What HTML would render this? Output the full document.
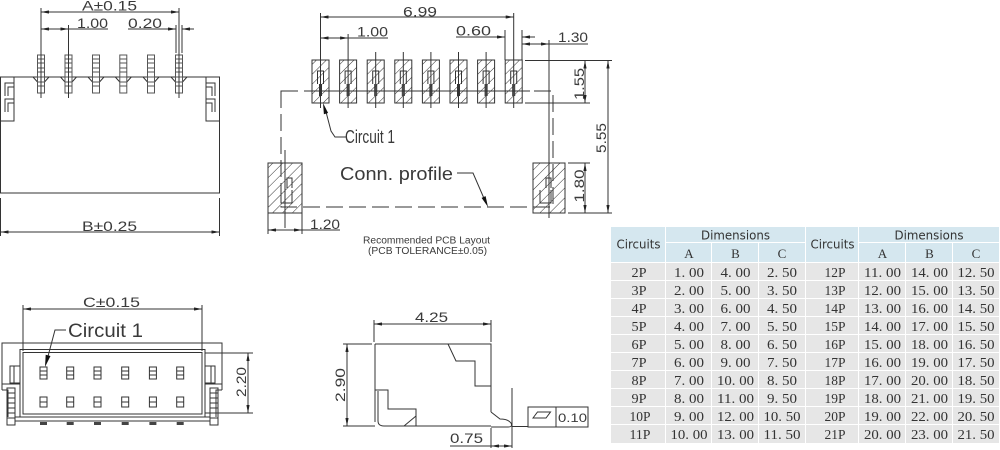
<!DOCTYPE html>
<html><head><meta charset="utf-8"><style>
html,body{margin:0;padding:0;background:#fff;}
svg{display:block}
.l{stroke:#333;stroke-width:1;fill:none}
.g{stroke:#555;stroke-width:1;fill:none}
.t{font-family:"Liberation Sans",sans-serif;fill:#3a3a3a;font-size:14px}
.ts{font-family:"DejaVu Sans","Liberation Sans",sans-serif;fill:#333;font-size:12px}
.tn{font-family:"Liberation Serif",serif;fill:#333;font-size:14px;text-anchor:middle}
</style></head><body>
<svg width="1000" height="450" viewBox="0 0 1000 450" xmlns="http://www.w3.org/2000/svg">
<defs>
<marker id="ar" viewBox="0 0 10 4" refX="10" refY="2" markerWidth="9" markerHeight="3.2" markerUnits="userSpaceOnUse" orient="auto-start-reverse"><path d="M0,0 L10,2 L0,4z" fill="#222"/></marker>
<pattern id="h" width="7" height="7" patternUnits="userSpaceOnUse" patternTransform="rotate(45)"><line x1="0" y1="0" x2="0" y2="7" stroke="#333" stroke-width="1"/></pattern>
</defs>

<!-- ============ TOP LEFT ============ -->
<g class="l">
  <rect x="0.5" y="77" width="219" height="116"/>
  <path d="M0.5,121 H14 V77 M219.5,121 H206 V77"/>
  <path d="M5,96 V83 H14 M8,96 V87 H14 M5,112 V99 H14 M8,112 V103 H14"/>
  <path d="M215,96 V83 H206 M212,96 V87 H206 M215,112 V99 H206 M212,112 V103 H206"/>
  <path d="M22,77 H33 L37.5,82 M44.5,82 L49,77 H60.5 L65,82 M72,82 L76.5,77 H88 L92.5,82 M99.5,82 L104,77 H115.3 L119.8,82 M126.8,82 L131.3,77 H143 L147.5,82 M154.5,82 L159,77 H171 L175.5,82 M182.5,82 L187,77 H198"/>
  <path d="M0.5,77 H14 M206,77 H219.5" />
</g>
<g class="g">
  <g id="pin">
    <rect x="37.5" y="55" width="7" height="38"/>
    <path d="M37.5,59 H44.5 M37.5,63 H44.5 M37.5,68 H44.5 M37.5,72 H44.5 M37.5,77 H44.5 M37.5,82 H44.5 M37.5,86 H44.5"/>
  </g>
  <use href="#pin" x="27.5"/>
  <use href="#pin" x="55"/>
  <use href="#pin" x="82.3"/>
  <use href="#pin" x="110"/>
  <use href="#pin" x="138"/>
</g>
<g class="l">
  <path d="M41,8 V98 M68.5,25 V98 M179,8 V98 M176,25 V53 M182,25 V53"/>
  <path d="M41,12 H179" marker-start="url(#ar)" marker-end="url(#ar)"/>
  <path d="M41,29 H68.5" marker-start="url(#ar)" marker-end="url(#ar)"/>
  <path d="M68.5,29 H108"/>
  <path d="M128,29 H176" marker-end="url(#ar)"/>
  <path d="M194,29 H182" marker-end="url(#ar)"/>
  <path d="M0.5,198 V236 M219.5,198 V236"/>
  <path d="M0.5,232 H219.5" marker-start="url(#ar)" marker-end="url(#ar)"/>
</g>
<text class="t" x="82" y="10.5" textLength="55" lengthAdjust="spacingAndGlyphs">A±0.15</text>
<text class="t" x="77" y="28" textLength="31" lengthAdjust="spacingAndGlyphs">1.00</text>
<text class="t" x="128" y="28" textLength="34" lengthAdjust="spacingAndGlyphs">0.20</text>
<text class="t" x="82" y="231" textLength="55" lengthAdjust="spacingAndGlyphs">B±0.25</text>

<!-- ============ PCB LAYOUT ============ -->
<g class="l">
  <rect x="281" y="91" width="272" height="116" stroke-dasharray="17 6"/>
  <path d="M305,91 H530"/>
</g>
<g id="pad">
  <rect x="312" y="60" width="17" height="43" fill="url(#h)" stroke="#333"/>
  <path class="l" d="M317.5,84 V71 H323.5 V84 M319.5,84 V96 M321.5,84 V96"/>
</g>
<use href="#pad" x="27.6"/>
<use href="#pad" x="55.2"/>
<use href="#pad" x="82.8"/>
<use href="#pad" x="110.4"/>
<use href="#pad" x="138"/>
<use href="#pad" x="165.6"/>
<use href="#pad" x="193.2"/>
<rect x="268" y="163" width="34" height="50" fill="url(#h)" stroke="#333"/>
<rect x="533" y="163" width="32" height="50" fill="url(#h)" stroke="#333"/>
<g class="l">
  <path d="M287,188 V178 H292 V188 M281,190 V203 H292 V190"/>
  <path d="M546,188 V178 H551 V188 M540,190 V203 H551 V190"/>
  <path d="M320.5,13 V108 M348.1,34 V108 M375.7,52 V108 M403.3,52 V108 M430.9,52 V108 M458.5,52 V108 M486.1,52 V108 M513.7,13 V108"/>
  <path d="M285,150 V228 M549,40 V218"/>
  <path d="M320.5,17 H513.7" marker-start="url(#ar)" marker-end="url(#ar)"/>
  <path d="M320.5,38 H348.1" marker-start="url(#ar)" marker-end="url(#ar)"/>
  <path d="M348.1,38 H388"/>
  <path d="M505,30 V60 M522,30 V60"/>
  <path d="M456,37 H505" marker-end="url(#ar)"/>
  <path d="M535,37 H522" marker-end="url(#ar)"/>
  <path d="M522,44 H549" marker-start="url(#ar)" marker-end="url(#ar)"/>
  <path d="M549,44 H588"/>
  <path d="M525,60.5 H612 M525,103 H590 M568,163 H590 M568,213 H612"/>
  <path d="M585,60.5 V103" marker-start="url(#ar)" marker-end="url(#ar)"/>
  <path d="M608,60.5 V213" marker-start="url(#ar)" marker-end="url(#ar)"/>
  <path d="M585,163 V213" marker-start="url(#ar)" marker-end="url(#ar)"/>
  <path d="M268,213 V234 M302,213 V234"/>
  <path d="M268,230 H302" marker-start="url(#ar)" marker-end="url(#ar)"/>
  <path d="M302,230 H340"/>
  <path d="M346,137 H335 L331,131 L325,108"/>
  <path d="M457,173 H473 L486,203"/>
</g>
<polygon points="323,103 328.1,113 323.9,114.2" fill="#111"/>
<polygon points="488,207 485.6,196.1 481.6,197.9" fill="#111"/>
<text class="t" x="403" y="16.5" textLength="34" lengthAdjust="spacingAndGlyphs">6.99</text>
<text class="t" x="357" y="36.5" textLength="31" lengthAdjust="spacingAndGlyphs">1.00</text>
<text class="t" x="456" y="35.5" textLength="35" lengthAdjust="spacingAndGlyphs">0.60</text>
<text class="t" x="558" y="42" textLength="30" lengthAdjust="spacingAndGlyphs">1.30</text>
<text class="t" text-anchor="middle" transform="translate(584,84) rotate(-90)" textLength="32" lengthAdjust="spacingAndGlyphs">1.55</text>
<text class="t" text-anchor="middle" transform="translate(606,138) rotate(-90)" textLength="30" lengthAdjust="spacingAndGlyphs">5.55</text>
<text class="t" text-anchor="middle" transform="translate(584,186) rotate(-90)" textLength="33" lengthAdjust="spacingAndGlyphs">1.80</text>
<text class="t" x="310" y="229" textLength="30" lengthAdjust="spacingAndGlyphs">1.20</text>
<text class="t" x="345" y="143" style="font-size:18px" textLength="50" lengthAdjust="spacingAndGlyphs">Circuit 1</text>
<text class="t" x="340" y="180" style="font-size:18px" textLength="113" lengthAdjust="spacingAndGlyphs">Conn. profile</text>
<text class="t" x="363" y="243.5" style="font-size:10px" textLength="127" lengthAdjust="spacingAndGlyphs">Recommended PCB Layout</text>
<text class="t" x="368" y="254" style="font-size:10px" textLength="119" lengthAdjust="spacingAndGlyphs">(PCB TOLERANCE±0.05)</text>

<!-- ============ BOTTOM LEFT ============ -->
<g class="l">
  <path d="M23,305 V351 M202,305 V351"/>
  <path d="M23,309 H202" marker-start="url(#ar)" marker-end="url(#ar)"/>
  <path d="M2,390 V343 H222 V390"/>
  <rect x="20" y="349.5" width="185" height="67.5"/>
  <rect x="23" y="352.5" width="179" height="61.5"/>
  <path d="M2,390 H8 V417 M222,390 H216 V417"/>
  <rect x="10" y="366" width="10" height="17"/>
  <path d="M14,366 V383"/>
  <rect x="205" y="366" width="10" height="17"/>
  <path d="M211,366 V383"/>
  <path d="M2,384 H20 M205,384 H222"/>
  <rect x="7" y="388" width="8" height="37"/>
  <path d="M7,393 H15 M7,398 H15 M7,403 H15 M7,408 H15 M7,413 H15 M7,418 H15"/>
  <rect x="210" y="388" width="8" height="37"/>
  <path d="M210,393 H218 M210,398 H218 M210,403 H218 M210,408 H218 M210,413 H218 M210,418 H218"/>
  <path d="M15,417 H210 M15,421 H210"/>
  <path d="M205,353 H253 M205,413 H253"/>
  <path d="M248,353 V413" marker-start="url(#ar)" marker-end="url(#ar)"/>
  <path d="M66,330 H55 L47,360"/>
</g>
<g class="l">
  <g id="bp">
    <rect x="40" y="367" width="7" height="12"/>
    <path d="M40,371 H47 M40,375 H47"/>
    <rect x="40" y="397" width="7" height="10"/>
    <path d="M40,402 H47"/>
    <rect x="40" y="422" width="7" height="3" fill="#444" stroke="none"/>
  </g>
  <use href="#bp" x="26.7"/>
  <use href="#bp" x="54"/>
  <use href="#bp" x="81.7"/>
  <use href="#bp" x="109.4"/>
  <use href="#bp" x="136.7"/>
</g>
<polygon points="45,367 50.5,356 45.7,354.8" fill="#111"/>
<text class="t" x="83" y="307" textLength="57" lengthAdjust="spacingAndGlyphs">C±0.15</text>
<text class="t" x="68" y="337" style="font-size:19px" textLength="75" lengthAdjust="spacingAndGlyphs">Circuit 1</text>
<text class="t" text-anchor="middle" transform="translate(246,382) rotate(-90)" textLength="30" lengthAdjust="spacingAndGlyphs">2.20</text>

<!-- ============ BOTTOM MIDDLE ============ -->
<g class="l">
  <path d="M374,320 V342 M491,320 V342"/>
  <path d="M374,324 H491" marker-start="url(#ar)" marker-end="url(#ar)"/>
  <path d="M375,344 H491 V412 M375,344 V422"/>
  <path d="M448,344 L456,361 H475 V386 H491"/>
  <path d="M375,390 H388 V409 H416 V426"/>
  <path d="M416,416 L404,426"/>
  <path d="M378,391 V421 Q378,426 384,426 H491"/>
  <path d="M491,412 L500,419 Q508,419 511,423 Q513,427 508,427 H491"/>
  <path d="M512,426.5 H528"/>
  <rect x="528" y="407" width="60" height="20"/>
  <path d="M556,407 V427"/>
  <path d="M533,418 L537.5,412 H550.5 L546,418 Z"/>
  <path d="M343,344 H372 M343,426 H375"/>
  <path d="M347,344 V426" marker-start="url(#ar)" marker-end="url(#ar)"/>
  <path d="M491,428 V448 M512,388 V448"/>
  <path d="M450,446 H491"/>
  <path d="M491,446 H512" marker-start="url(#ar)" marker-end="url(#ar)"/>
</g>
<text class="t" x="415" y="322" textLength="33" lengthAdjust="spacingAndGlyphs">4.25</text>
<text class="t" text-anchor="middle" transform="translate(345,385) rotate(-90)" textLength="34" lengthAdjust="spacingAndGlyphs">2.90</text>
<text class="t" x="450" y="443" textLength="33" lengthAdjust="spacingAndGlyphs">0.75</text>
<text class="t" x="558" y="422" style="font-size:12px" textLength="29" lengthAdjust="spacingAndGlyphs">0.10</text>

<!-- ============ TABLE ============ -->
<rect x="611" y="227" width="388" height="36" fill="#d5e7ef"/>
<rect x="611" y="263" width="388" height="180" fill="#e6e6e6"/>
<g stroke="#fff" stroke-width="1">
  <path d="M665.5,227 V443 M805.5,227 V443 M858.5,227 V443"/>
  <path d="M711.5,243 V443 M758.5,243 V443 M905.5,243 V443 M952.5,243 V443"/>
  <path d="M666,242.5 H805 M859,242.5 H999"/>
  <path d="M611,262.5 H999 M611,280.5 H999 M611,298.5 H999 M611,316.5 H999 M611,334.5 H999 M611,352.5 H999 M611,370.5 H999 M611,388.5 H999 M611,406.5 H999 M611,424.5 H999"/>
</g>
<text class="ts" x="638.5" y="248.5" text-anchor="middle" textLength="44" lengthAdjust="spacingAndGlyphs">Circuits</text>
<text class="ts" x="735.5" y="239.5" text-anchor="middle" textLength="69" lengthAdjust="spacingAndGlyphs">Dimensions</text>
<text class="ts" x="832.5" y="248.5" text-anchor="middle" textLength="44" lengthAdjust="spacingAndGlyphs">Circuits</text>
<text class="ts" x="929" y="239.5" text-anchor="middle" textLength="69" lengthAdjust="spacingAndGlyphs">Dimensions</text>
<g class="tn" style="font-size:13px">
  <text x="689" y="258">A</text><text x="735.5" y="258">B</text><text x="782" y="258">C</text>
  <text x="882.5" y="258">A</text><text x="929.5" y="258">B</text><text x="976" y="258">C</text>
</g>
<g class="tn">
  <text x="639" y="277" textLength="15" lengthAdjust="spacingAndGlyphs">2P</text>
  <text x="689" y="277" textLength="30" lengthAdjust="spacingAndGlyphs">1. 00</text>
  <text x="735.5" y="277" textLength="30" lengthAdjust="spacingAndGlyphs">4. 00</text>
  <text x="782" y="277" textLength="30" lengthAdjust="spacingAndGlyphs">2. 50</text>

  <text x="639" y="295" textLength="15" lengthAdjust="spacingAndGlyphs">3P</text>
  <text x="689" y="295" textLength="30" lengthAdjust="spacingAndGlyphs">2. 00</text>
  <text x="735.5" y="295" textLength="30" lengthAdjust="spacingAndGlyphs">5. 00</text>
  <text x="782" y="295" textLength="30" lengthAdjust="spacingAndGlyphs">3. 50</text>

  <text x="639" y="313" textLength="15" lengthAdjust="spacingAndGlyphs">4P</text>
  <text x="689" y="313" textLength="30" lengthAdjust="spacingAndGlyphs">3. 00</text>
  <text x="735.5" y="313" textLength="30" lengthAdjust="spacingAndGlyphs">6. 00</text>
  <text x="782" y="313" textLength="30" lengthAdjust="spacingAndGlyphs">4. 50</text>

  <text x="639" y="331" textLength="15" lengthAdjust="spacingAndGlyphs">5P</text>
  <text x="689" y="331" textLength="30" lengthAdjust="spacingAndGlyphs">4. 00</text>
  <text x="735.5" y="331" textLength="30" lengthAdjust="spacingAndGlyphs">7. 00</text>
  <text x="782" y="331" textLength="30" lengthAdjust="spacingAndGlyphs">5. 50</text>

  <text x="639" y="349" textLength="15" lengthAdjust="spacingAndGlyphs">6P</text>
  <text x="689" y="349" textLength="30" lengthAdjust="spacingAndGlyphs">5. 00</text>
  <text x="735.5" y="349" textLength="30" lengthAdjust="spacingAndGlyphs">8. 00</text>
  <text x="782" y="349" textLength="30" lengthAdjust="spacingAndGlyphs">6. 50</text>

  <text x="639" y="367" textLength="15" lengthAdjust="spacingAndGlyphs">7P</text>
  <text x="689" y="367" textLength="30" lengthAdjust="spacingAndGlyphs">6. 00</text>
  <text x="735.5" y="367" textLength="30" lengthAdjust="spacingAndGlyphs">9. 00</text>
  <text x="782" y="367" textLength="30" lengthAdjust="spacingAndGlyphs">7. 50</text>

  <text x="639" y="385" textLength="15" lengthAdjust="spacingAndGlyphs">8P</text>
  <text x="689" y="385" textLength="30" lengthAdjust="spacingAndGlyphs">7. 00</text>
  <text x="735.5" y="385" textLength="37" lengthAdjust="spacingAndGlyphs">10. 00</text>
  <text x="782" y="385" textLength="30" lengthAdjust="spacingAndGlyphs">8. 50</text>

  <text x="639" y="403" textLength="15" lengthAdjust="spacingAndGlyphs">9P</text>
  <text x="689" y="403" textLength="30" lengthAdjust="spacingAndGlyphs">8. 00</text>
  <text x="735.5" y="403" textLength="37" lengthAdjust="spacingAndGlyphs">11. 00</text>
  <text x="782" y="403" textLength="30" lengthAdjust="spacingAndGlyphs">9. 50</text>

  <text x="640" y="421" textLength="21" lengthAdjust="spacingAndGlyphs">10P</text>
  <text x="689" y="421" textLength="30" lengthAdjust="spacingAndGlyphs">9. 00</text>
  <text x="735.5" y="421" textLength="37" lengthAdjust="spacingAndGlyphs">12. 00</text>
  <text x="782" y="421" textLength="37" lengthAdjust="spacingAndGlyphs">10. 50</text>

  <text x="640" y="439" textLength="21" lengthAdjust="spacingAndGlyphs">11P</text>
  <text x="689" y="439" textLength="37" lengthAdjust="spacingAndGlyphs">10. 00</text>
  <text x="735.5" y="439" textLength="37" lengthAdjust="spacingAndGlyphs">13. 00</text>
  <text x="782" y="439" textLength="37" lengthAdjust="spacingAndGlyphs">11. 50</text>

  <text x="835" y="277" textLength="21" lengthAdjust="spacingAndGlyphs">12P</text>
  <text x="882.5" y="277" textLength="37" lengthAdjust="spacingAndGlyphs">11. 00</text>
  <text x="929.5" y="277" textLength="37" lengthAdjust="spacingAndGlyphs">14. 00</text>
  <text x="976" y="277" textLength="37" lengthAdjust="spacingAndGlyphs">12. 50</text>

  <text x="835" y="295" textLength="21" lengthAdjust="spacingAndGlyphs">13P</text>
  <text x="882.5" y="295" textLength="37" lengthAdjust="spacingAndGlyphs">12. 00</text>
  <text x="929.5" y="295" textLength="37" lengthAdjust="spacingAndGlyphs">15. 00</text>
  <text x="976" y="295" textLength="37" lengthAdjust="spacingAndGlyphs">13. 50</text>

  <text x="835" y="313" textLength="21" lengthAdjust="spacingAndGlyphs">14P</text>
  <text x="882.5" y="313" textLength="37" lengthAdjust="spacingAndGlyphs">13. 00</text>
  <text x="929.5" y="313" textLength="37" lengthAdjust="spacingAndGlyphs">16. 00</text>
  <text x="976" y="313" textLength="37" lengthAdjust="spacingAndGlyphs">14. 50</text>

  <text x="835" y="331" textLength="21" lengthAdjust="spacingAndGlyphs">15P</text>
  <text x="882.5" y="331" textLength="37" lengthAdjust="spacingAndGlyphs">14. 00</text>
  <text x="929.5" y="331" textLength="37" lengthAdjust="spacingAndGlyphs">17. 00</text>
  <text x="976" y="331" textLength="37" lengthAdjust="spacingAndGlyphs">15. 50</text>

  <text x="835" y="349" textLength="21" lengthAdjust="spacingAndGlyphs">16P</text>
  <text x="882.5" y="349" textLength="37" lengthAdjust="spacingAndGlyphs">15. 00</text>
  <text x="929.5" y="349" textLength="37" lengthAdjust="spacingAndGlyphs">18. 00</text>
  <text x="976" y="349" textLength="37" lengthAdjust="spacingAndGlyphs">16. 50</text>

  <text x="835" y="367" textLength="21" lengthAdjust="spacingAndGlyphs">17P</text>
  <text x="882.5" y="367" textLength="37" lengthAdjust="spacingAndGlyphs">16. 00</text>
  <text x="929.5" y="367" textLength="37" lengthAdjust="spacingAndGlyphs">19. 00</text>
  <text x="976" y="367" textLength="37" lengthAdjust="spacingAndGlyphs">17. 50</text>

  <text x="835" y="385" textLength="21" lengthAdjust="spacingAndGlyphs">18P</text>
  <text x="882.5" y="385" textLength="37" lengthAdjust="spacingAndGlyphs">17. 00</text>
  <text x="929.5" y="385" textLength="37" lengthAdjust="spacingAndGlyphs">20. 00</text>
  <text x="976" y="385" textLength="37" lengthAdjust="spacingAndGlyphs">18. 50</text>

  <text x="835" y="403" textLength="21" lengthAdjust="spacingAndGlyphs">19P</text>
  <text x="882.5" y="403" textLength="37" lengthAdjust="spacingAndGlyphs">18. 00</text>
  <text x="929.5" y="403" textLength="37" lengthAdjust="spacingAndGlyphs">21. 00</text>
  <text x="976" y="403" textLength="37" lengthAdjust="spacingAndGlyphs">19. 50</text>

  <text x="835" y="421" textLength="21" lengthAdjust="spacingAndGlyphs">20P</text>
  <text x="882.5" y="421" textLength="37" lengthAdjust="spacingAndGlyphs">19. 00</text>
  <text x="929.5" y="421" textLength="37" lengthAdjust="spacingAndGlyphs">22. 00</text>
  <text x="976" y="421" textLength="37" lengthAdjust="spacingAndGlyphs">20. 50</text>

  <text x="835" y="439" textLength="21" lengthAdjust="spacingAndGlyphs">21P</text>
  <text x="882.5" y="439" textLength="37" lengthAdjust="spacingAndGlyphs">20. 00</text>
  <text x="929.5" y="439" textLength="37" lengthAdjust="spacingAndGlyphs">23. 00</text>
  <text x="976" y="439" textLength="37" lengthAdjust="spacingAndGlyphs">21. 50</text>
</g>
</svg>
</body></html>
